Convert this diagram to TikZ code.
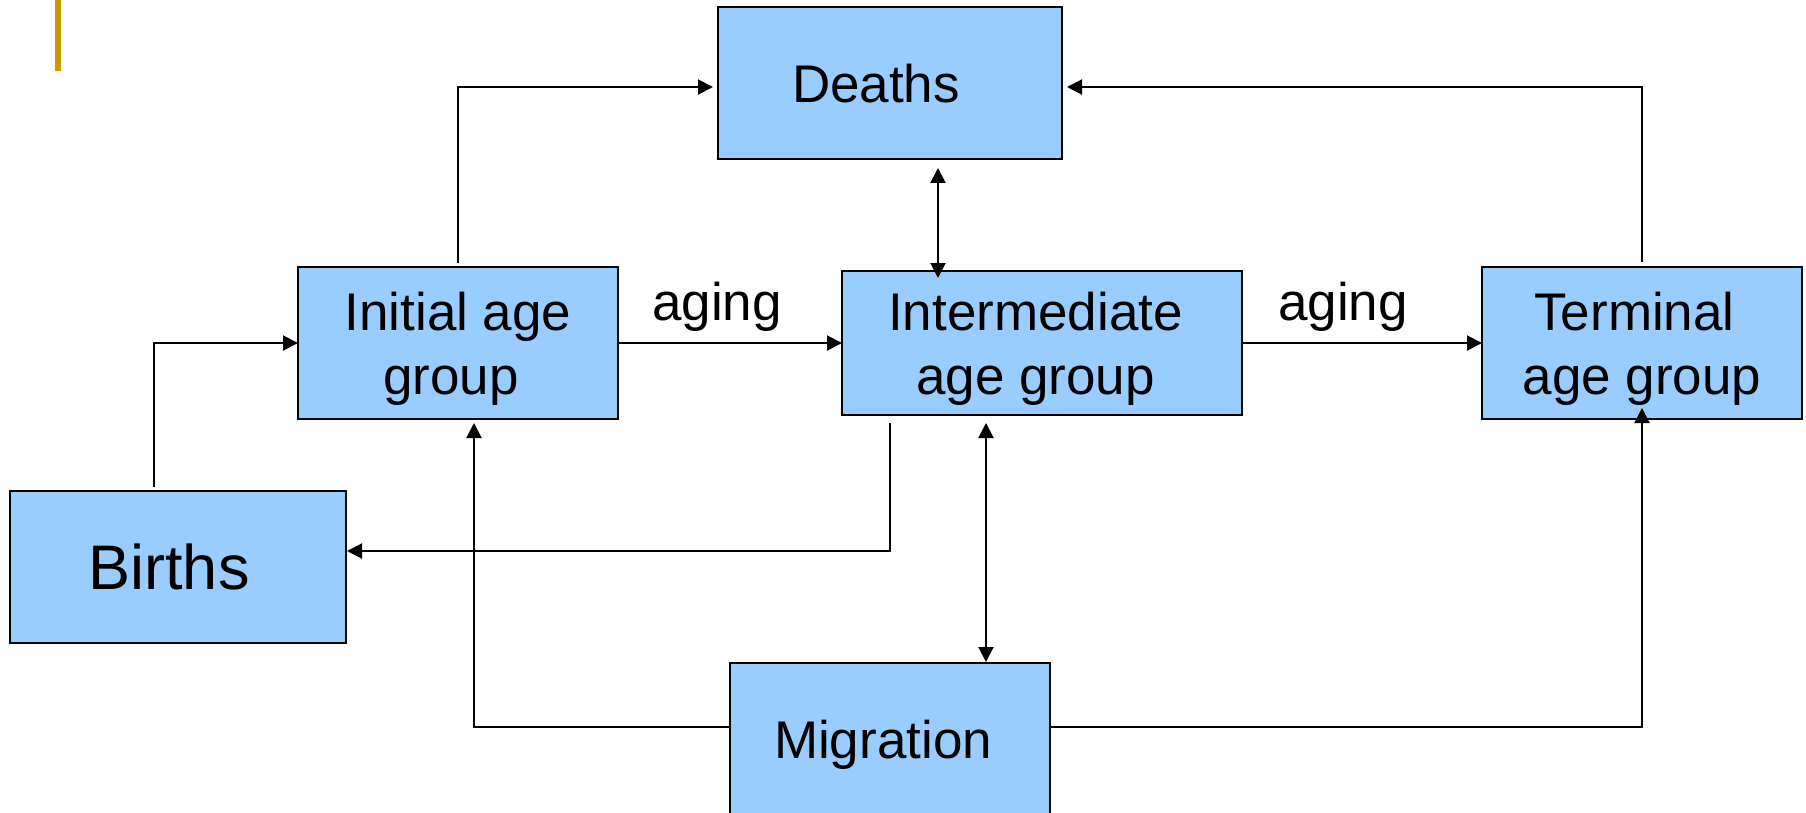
\documentclass[tikz,border=0pt]{standalone}
\usepackage{fontspec}
\setmainfont{Liberation Sans}
\usetikzlibrary{arrows.meta,calc}
\definecolor{boxblue}{RGB}{153,204,255}
\definecolor{accent}{RGB}{204,153,0}
\begin{document}
\begin{tikzpicture}[x=0.5pt,y=-0.5pt,
  box/.style={draw=black, line width=1.1pt, fill=boxblue, inner sep=0pt,
    outer sep=0pt, align=center, text depth=0pt,
    font=\fontsize{26.5pt}{32pt}\selectfont},
  arr/.style={line width=1pt, -{Triangle[length=7.5pt,width=7.5pt]}},
  arr2/.style={line width=1pt,
    {Triangle[length=7.5pt,width=7.5pt]}-{Triangle[length=7.5pt,width=7.5pt]}},
  lbl/.style={font=\fontsize{26.5pt}{32pt}\selectfont, inner sep=0pt, anchor=base}]
\useasboundingbox (0,0) rectangle (1806,813);
\clip (0,0) rectangle (1806,813);

% accent bar
\fill[accent] (55,0) rectangle (61,71);

% stocks and flows
\node[box, minimum width=172pt, minimum height=76pt] (deaths) at (890,83)
  {Deaths\hspace*{14pt}};
\node[box, minimum width=160pt, minimum height=76pt] (init) at (458,343)
  {Initial age\\group\hspace*{7pt}};
\node[box, minimum width=200pt, minimum height=72pt] (inter) at (1042,343)
  {Intermediate\hspace*{6.5pt}\\age group\hspace*{6.5pt}};
\node[box, minimum width=160pt, minimum height=76pt] (term) at (1642,343)
  {Terminal\hspace*{7.5pt}\\age group};
\node[box, minimum width=168pt, minimum height=76pt,
  font=\fontsize{31.5pt}{36pt}\selectfont] (births) at (178,567)
  {Births\hspace*{9pt}};
\node[box, minimum width=160pt, minimum height=76pt] (mig) at (890,739)
  {Migration\hspace*{7pt}};

% labels
\node[lbl] (aging1) at (717,320) {aging};
\node[lbl] (aging2) at (1343,320) {aging};

% connectors
\draw[arr] ($(init.north)+(0,-4)$) |- ($(deaths.west)+(-5,4)$);
\draw[arr] ($(term.north)+(0,-5)$) |- ($(deaths.east)+(5,4)$);
\draw[arr2] ($(deaths.south)+(48,9)$) -- ($(inter.north)+(-104,7)$);
\draw[arr] (init.east) -- (inter.west);
\draw[arr] (inter.east) -- (term.west);
\draw[arr] ($(births.north)+(-24,-4)$) |- (init.west);
\draw[arr] ($(inter.south)+(-152,8)$) |- ($(births.east)+(1,-16)$);
\draw[arr2] ($(inter.south)+(-56,8)$) -- ($(mig.north)+(96,-1)$);
\draw[arr] ($(mig.west)+(0,-12)$) -| ($(init.south)+(16,4)$);
\draw[arr] ($(mig.east)+(0,-12)$) -| ($(term.south)+(0,-11)$);
\end{tikzpicture}
\end{document}
